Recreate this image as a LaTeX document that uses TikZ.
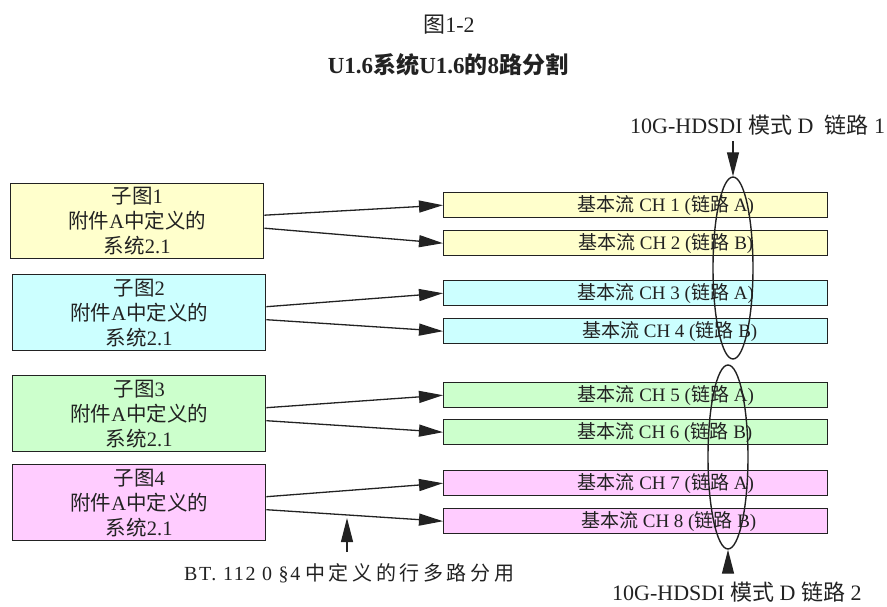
\documentclass[tikz,border=0pt]{standalone}
\usepackage{fontspec}
\setmainfont{Liberation Serif}
\newfontfamily\cjk{Noto Sans CJK SC}
\newfontfamily\cjkwide[LetterSpace=18]{Noto Sans CJK SC}
\newfontfamily\serifwide[LetterSpace=8]{Liberation Serif}
\newcommand\zh[1]{{\cjk #1}}
\usetikzlibrary{shapes.geometric,arrows.meta}
\definecolor{cyel}{HTML}{FFFFCC}
\definecolor{ccya}{HTML}{CCFFFF}
\definecolor{cgrn}{HTML}{CCFFCC}
\definecolor{cpnk}{HTML}{FFCCFF}
\definecolor{ink}{HTML}{222222}
\begin{document}
\begin{tikzpicture}[x=1pt,y=-1pt,
  srcbox/.style={draw=ink, line width=1.4pt, minimum width=253pt, minimum height=76pt,
    align=center, inner sep=0pt, anchor=north west, text=ink,
    font=\fontsize{20.5}{25}\selectfont},
  chbox/.style={draw=ink, line width=1.4pt, minimum width=384pt, minimum height=25pt,
    inner sep=0pt, anchor=north west},
  chtext/.style={font=\fontsize{19}{20}\selectfont, text=ink},
  arr/.style={line width=1.3pt, draw=ink, -{Triangle[length=24pt,width=12pt]}},
  ring/.style={draw=ink, line width=1.4pt, ellipse, inner sep=0pt, minimum width=40pt},
  lab/.style={text=ink, font=\fontsize{22}{24}\selectfont, inner sep=0pt}
]
\useasboundingbox (0,0) rectangle (887,607);

% titles
\node[lab, font=\fontsize{22}{24}\selectfont] (t1) at (449,25) {\zh{图}1-2};
\node[lab, font=\fontsize{23}{25}\selectfont\bfseries] (t2) at (448,65) {U1.6\zh{系统}U1.6\zh{的}8\zh{路分割}};

% source boxes
\node[srcbox, fill=cyel, minimum height=75pt] (s1) at (10,183) {\zh{子图}1\\\zh{附件}A\zh{中定义的}\\\zh{系统}2.1};
\node[srcbox, fill=ccya] (s2) at (12,274) {\zh{子图}2\\\zh{附件}A\zh{中定义的}\\\zh{系统}2.1};
\node[srcbox, fill=cgrn] (s3) at (12,375) {\zh{子图}3\\\zh{附件}A\zh{中定义的}\\\zh{系统}2.1};
\node[srcbox, fill=cpnk] (s4) at (12,464) {\zh{子图}4\\\zh{附件}A\zh{中定义的}\\\zh{系统}2.1};

% channel boxes
\node[chbox, fill=cyel] (c1) at (443,192) {};
\node[chbox, fill=cyel] (c2) at (443,230) {};
\node[chbox, fill=ccya] (c3) at (443,280) {};
\node[chbox, fill=ccya] (c4) at (443,318) {};
\node[chbox, fill=cgrn] (c5) at (443,382) {};
\node[chbox, fill=cgrn] (c6) at (443,419) {};
\node[chbox, fill=cpnk] (c7) at (443,470) {};
\node[chbox, fill=cpnk] (c8) at (443,508) {};

\node[chtext] (l1) at ([xshift=30pt]c1.center) {\zh{基本流} CH 1 (\zh{链路} A)};
\node[chtext] (l2) at ([xshift=30pt]c2.center) {\zh{基本流} CH 2 (\zh{链路} B)};
\node[chtext] (l3) at ([xshift=30pt]c3.center) {\zh{基本流} CH 3 (\zh{链路} A)};
\node[chtext] (l4) at ([xshift=34pt]c4.center) {\zh{基本流} CH 4 (\zh{链路} B)};
\node[chtext] (l5) at ([xshift=30pt]c5.center) {\zh{基本流} CH 5 (\zh{链路} A)};
\node[chtext] (l6) at ([xshift=29pt]c6.center) {\zh{基本流} CH 6 (\zh{链路} B)};
\node[chtext] (l7) at ([xshift=30pt]c7.center) {\zh{基本流} CH 7 (\zh{链路} A)};
\node[chtext] (l8) at ([xshift=33pt]c8.center) {\zh{基本流} CH 8 (\zh{链路} B)};

% arrows from source boxes
\foreach \s/\a/\b in {s1/c1/c2, s2/c3/c4, s3/c5/c6, s4/c7/c8}{
  \draw[arr] ([yshift=6pt]\s.east) -- (\a.west);
  \draw[arr] ([yshift=-7pt]\s.east) -- (\b.west);
}

% link ellipses
\node[ring, minimum height=182pt] (e1) at (733,268) {};
\node[ring, minimum height=184pt] (e2) at (728,457) {};

% link labels
\node[lab, anchor=west] (k1) at (630,125) {10G-HDSDI \zh{模式} D\ \ \zh{链路} 1};
\coordinate (a1) at (733,141);
\draw[arr] (a1) -- (e1.north);

\node[lab, anchor=west] (k2) at (612,592) {10G-HDSDI \zh{模式} D \zh{链路} 2};
\coordinate (a2) at (728,572);
\draw[arr] (a2) -- (e2.south);

% demux label
\node[lab, anchor=west, font=\fontsize{20}{22}\selectfont] (bt) at (184,573) {{\serifwide BT. 112 0 §4} {\cjkwide 中定义的行多路分用}};
\coordinate (a3) at (347,552);
\coordinate (a3t) at (347,518);
\draw[arr] (a3) -- (a3t);
\end{tikzpicture}
\end{document}
